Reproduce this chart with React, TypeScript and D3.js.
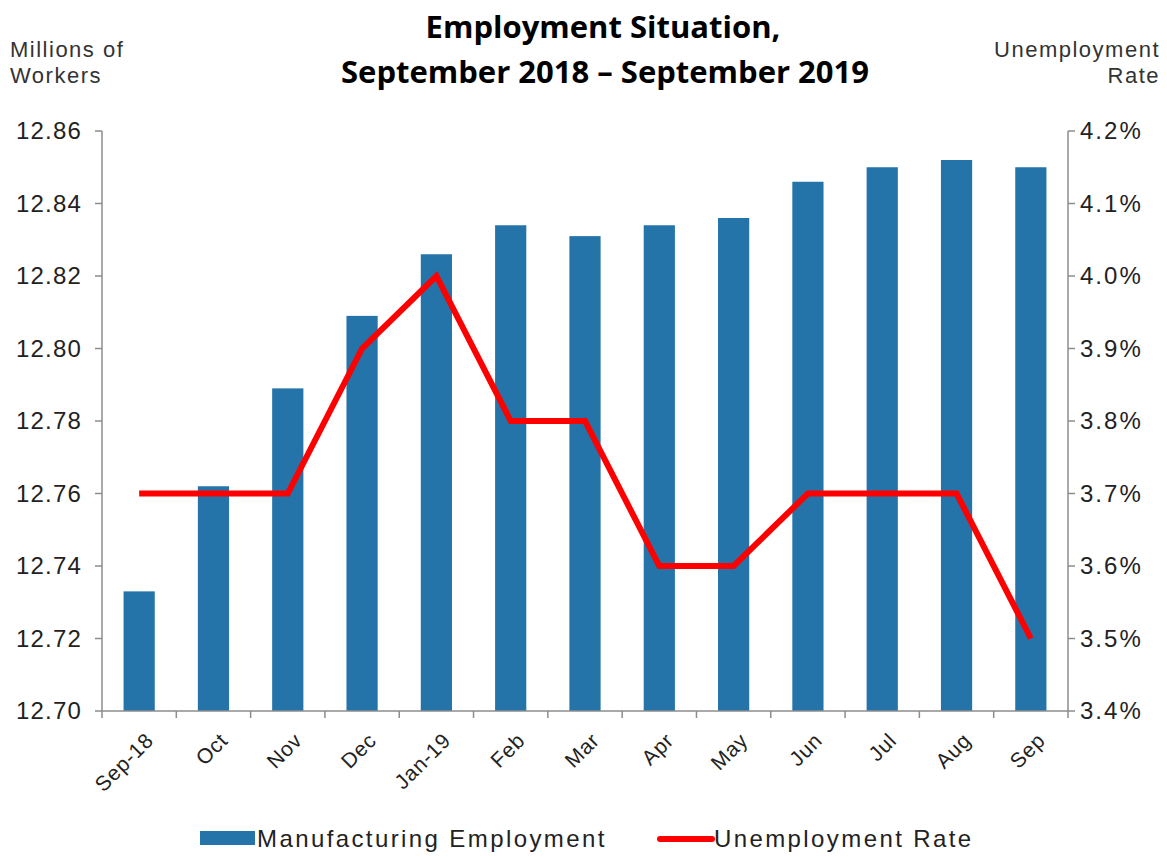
import React from "react";
import * as d3 from "d3";

const months = ["Sep-18", "Oct", "Nov", "Dec", "Jan-19", "Feb", "Mar", "Apr", "May", "Jun", "Jul", "Aug", "Sep"];
const manufacturing = [12.733, 12.762, 12.789, 12.809, 12.826, 12.834, 12.831, 12.834, 12.836, 12.846, 12.85, 12.852, 12.85];
const unemployment = [3.7, 3.7, 3.7, 3.9, 4.0, 3.8, 3.8, 3.6, 3.6, 3.7, 3.7, 3.7, 3.5];
const leftTicks = [12.7, 12.72, 12.74, 12.76, 12.78, 12.8, 12.82, 12.84, 12.86];
const rightTicks = [3.4, 3.5, 3.6, 3.7, 3.8, 3.9, 4.0, 4.1, 4.2];

const W = 1167, H = 857;
const left = 102, right = 1068, top = 131, bottom = 711;
const axisColor = "#8c8c8c";
const font = "'Liberation Sans', Arial, sans-serif";

export default function App() {
  const x = d3.scaleBand<string>().domain(months).range([left, right]).paddingInner(0.58).paddingOuter(0.29);
  const band = d3.scaleBand<string>().domain(months).range([left, right]);
  const yL = d3.scaleLinear().domain([12.7, 12.86]).range([bottom, top]);
  const yR = d3.scaleLinear().domain([3.4, 4.2]).range([bottom, top]);
  const line = d3.line<number>().x((_, i) => (band(months[i]) as number) + band.bandwidth() / 2).y((d) => yR(d));
  const edges = months.map((m) => band(m) as number).concat([right]);

  return (
    <svg width={W} height={H} style={{ position: "absolute", left: 0, top: 0, background: "#fff" }}>
      <text x={603} y={38} textAnchor="middle" fontFamily="'Open Sans', sans-serif" fontWeight="bold" fontSize={31}>Employment Situation,</text>
      <text x={605} y={83} textAnchor="middle" fontFamily="'Open Sans', sans-serif" fontWeight="bold" fontSize={31}>September 2018 – September 2019</text>

      <text x={10} y={57} fontFamily={font} fontSize={22} letterSpacing={1.5} fill="#333">Millions of</text>
      <text x={10} y={83} fontFamily={font} fontSize={22} letterSpacing={1.5} fill="#333">Workers</text>
      <text x={1160} y={57} textAnchor="end" fontFamily={font} fontSize={22} letterSpacing={1.5} fill="#333">Unemployment</text>
      <text x={1160} y={83} textAnchor="end" fontFamily={font} fontSize={22} letterSpacing={1.5} fill="#333">Rate</text>

      {manufacturing.map((v, i) => (
        <rect key={i} x={x(months[i])} y={yL(v)} width={x.bandwidth()} height={bottom - yL(v)} fill="#2474aa" />
      ))}

      <path d={line(unemployment) || ""} fill="none" stroke="#ff0000" strokeWidth={6} strokeLinejoin="miter" />

      <line x1={left} x2={left} y1={top} y2={bottom} stroke={axisColor} strokeWidth={1.5} />
      <line x1={right} x2={right} y1={top} y2={bottom} stroke={axisColor} strokeWidth={1.5} />
      <line x1={left} x2={right} y1={bottom} y2={bottom} stroke={axisColor} strokeWidth={1.5} />

      {leftTicks.map((t) => (
        <g key={t}>
          <line x1={left - 7} x2={left} y1={yL(t)} y2={yL(t)} stroke={axisColor} strokeWidth={1.5} />
          <text x={82} y={yL(t) + 8} textAnchor="end" fontFamily={font} fontSize={24} letterSpacing={1.2} fill="#222">{t.toFixed(2)}</text>
        </g>
      ))}
      {rightTicks.map((t) => (
        <g key={t}>
          <line x1={right} x2={right + 7} y1={yR(t)} y2={yR(t)} stroke={axisColor} strokeWidth={1.5} />
          <text x={1080} y={yR(t) + 8} fontFamily={font} fontSize={24} letterSpacing={2} fill="#222">{t.toFixed(1)}%</text>
        </g>
      ))}
      {edges.map((e, i) => (
        <line key={i} x1={e} x2={e} y1={bottom} y2={bottom + 7} stroke={axisColor} strokeWidth={1.5} />
      ))}
      {months.map((m) => {
        const cx = (band(m) as number) + band.bandwidth() / 2 + 5;
        const cy = bottom + 20;
        return (
          <text key={m} x={cx} y={cy} transform={`rotate(-45 ${cx} ${cy})`} textAnchor="end" dominantBaseline="hanging" fontFamily={font} fontSize={21} letterSpacing={0.8} fill="#222">{m}</text>
        );
      })}

      <rect x={200} y={831} width={55} height={14} fill="#2474aa" />
      <text x={257} y={847} fontFamily={font} fontSize={24} letterSpacing={2.4} fill="#222">Manufacturing Employment</text>
      <line x1={660} x2={712} y1={839} y2={839} stroke="#ff0000" strokeWidth={6} strokeLinecap="round" />
      <text x={714} y={847} fontFamily={font} fontSize={24} letterSpacing={2.4} fill="#222">Unemployment Rate</text>
    </svg>
  );
}
